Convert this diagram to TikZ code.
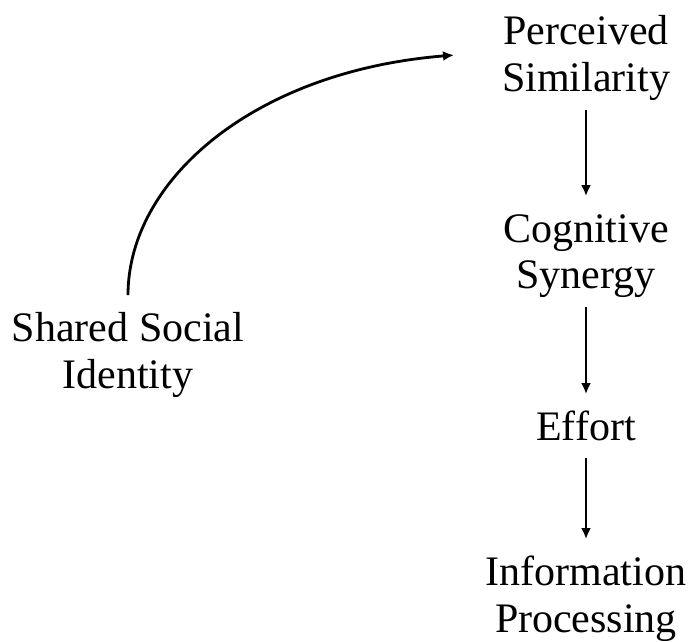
\documentclass[tikz,border=0pt]{standalone}
\usepackage{fontspec}
\setmainfont{Liberation Serif}
\usetikzlibrary{arrows.meta}
% centred block of lines whose baseline is the first line
\newcommand\conceptlines[1]{\begin{tabular}[t]{@{}c@{}}#1\end{tabular}}
\begin{document}
\begin{tikzpicture}[x=1pt,y=-1pt,
  concept/.style={inner sep=0pt, outer sep=0pt, anchor=base,
    font=\fontsize{42}{47}\selectfont},
  flow/.style={line width=2.8pt, -{Latex[length=11pt,width=10pt]}},
  link/.style={flow, shorten <=4pt, shorten >=13pt}]
\useasboundingbox (0,0) rectangle (689,642);

% chain of constructs on the right
\node[concept] (ps)  at (586,45)  {\conceptlines{Perceived\\Similarity}};
\node[concept] (cs)  at (586,242) {\conceptlines{Cognitive\\Synergy}};
\node[concept] (ef)  at (586,440) {\conceptlines{Effort}};
\node[concept] (ip)  at (586,585) {\conceptlines{Information\\Processing}};

% antecedent on the left
\node[concept] (ssi) at (128,341) {\conceptlines{Shared Social\\Identity}};

% vertical links
\draw[link] (ps.south) -- (cs.north);
\draw[link] (cs.south) -- (ef.north);
\draw[link] (ef.south) -- (ip.north);

% curved link into the chain
\draw[flow] ([yshift=13pt]ssi.north) .. controls +(0,-115) and +(-200,16) ..
  ([xshift=-48pt,yshift=4pt]ps.west);
\end{tikzpicture}
\end{document}
